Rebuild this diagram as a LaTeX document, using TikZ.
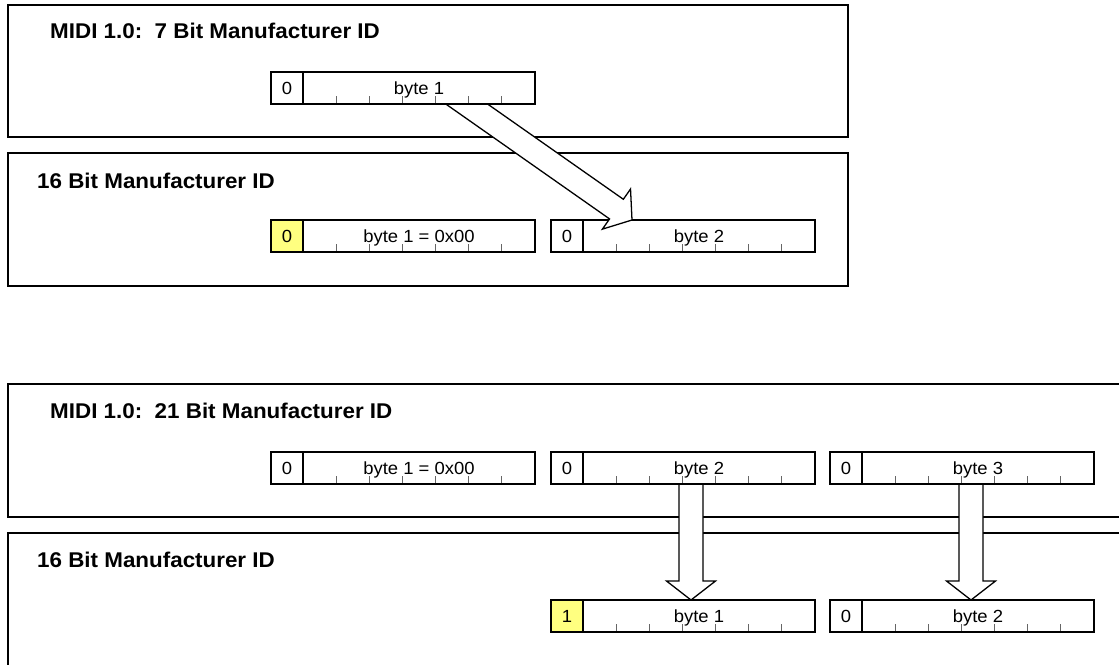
\documentclass[tikz,border=0pt]{standalone}
\usepackage{fontspec}
\setmainfont{Liberation Sans}
\newfontfamily\midifont[FakeStretch=1.05]{Liberation Sans}
\usetikzlibrary{positioning,calc}
\definecolor{bitmark}{HTML}{FFFF80}
\tikzset{
  % panels
  panel/.style={draw=black,line width=1.3pt,fill=white},
  ptitle/.style={anchor=base west,inner sep=0pt,
                 font=\midifont\fontsize{18.2}{20}\selectfont\bfseries},
  % bytes
  msb/.style={draw=black,line width=1.4pt,fill=white,inner sep=0pt,outer sep=0pt,
              minimum width=9.6mm,minimum height=9.6mm,text height=3.8mm,text depth=0pt,
              font=\midifont\fontsize{15}{17}\selectfont},
  msbset/.style={msb,fill=bitmark},
  bittick/.style={draw=black!60,line width=0.9pt},
  bytebox/.style={msb,minimum width=69.6mm,
    path picture={\foreach \k in {1,...,6}
      \draw[bittick] ($(path picture bounding box.south west)!\k/7!(path picture bounding box.south east)$) -- ++(0,2.4mm);}},
  blockarrow/.style={draw=black,line width=1.1pt,fill=white,line join=miter},
}
% #1 = tail, #2 = tip
\newcommand{\fatarrow}[2]{%
  \coordinate (hb) at ($(#2)!5.7mm!(#1)$);
  \draw[blockarrow] ($(#1)!3.6mm!90:(#2)$) -- ($(hb)!3.6mm!90:(#2)$)
    -- ($(hb)!7.35mm!90:(#2)$) -- (#2) -- ($(hb)!7.35mm!-90:(#2)$)
    -- ($(hb)!3.6mm!-90:(#2)$) -- ($(#1)!3.6mm!-90:(#2)$) -- cycle;}

\begin{document}
\begin{tikzpicture}[x=0.3mm,y=-0.3mm]
  \useasboundingbox (0,0) rectangle (1119,664);
  \clip (0,0) rectangle (1119,664);
  % frames
  \draw[panel] (8,5) rectangle (848,137);
  \draw[panel] (8,153) rectangle (848,286);
  \draw[panel] (8,384) rectangle (1130,517);
  \draw[panel] (8,533) rectangle (1130,690);
  \node[ptitle] (t1) at (50,38) {MIDI 1.0:\ \ 7 Bit Manufacturer ID};
  \node[ptitle] (t2) at (37,188) {16 Bit Manufacturer ID};
  \node[ptitle] (t3) at (50,418) {MIDI 1.0:\ \ 21 Bit Manufacturer ID};
  \node[ptitle] (t4) at (37,567) {16 Bit Manufacturer ID};

  % 16 bit targets
  \node[msbset] (z2a) at (287,236) {0};
  \node[bytebox,right=0pt of z2a] (b2a) {byte 1 = 0x00};
  \node[msb] (z2b) at (567,236) {0};
  \node[bytebox,right=0pt of z2b] (b2b) {byte 2};
  \node[msbset] (z4a) at (567,616) {1};
  \node[bytebox,right=0pt of z4a] (b4a) {byte 1};
  \node[msb] (z4b) at (846,616) {0};
  \node[bytebox,right=0pt of z4b] (b4b) {byte 2};

  % arrows
  \coordinate (a1s) at (441,86);
  \coordinate (a1e) at (632,220);
  \coordinate (a2s) at (691,470);
  \coordinate (a2e) at (a2s |- b4a.north);
  \coordinate (a3s) at (971,470);
  \coordinate (a3e) at (a3s |- b4b.north);
  \fatarrow{a1s}{a1e}
  \fatarrow{a2s}{a2e}
  \fatarrow{a3s}{a3e}

  % MIDI 1.0 sources
  \node[msb] (z1) at (287,88) {0};
  \node[bytebox,right=0pt of z1] (b1) {byte 1};
  \node[msb] (z3a) at (287,468) {0};
  \node[bytebox,right=0pt of z3a] (b3a) {byte 1 = 0x00};
  \node[msb] (z3b) at (567,468) {0};
  \node[bytebox,right=0pt of z3b] (b3b) {byte 2};
  \node[msb] (z3c) at (846,468) {0};
  \node[bytebox,right=0pt of z3c] (b3c) {byte 3};
\end{tikzpicture}
\end{document}
